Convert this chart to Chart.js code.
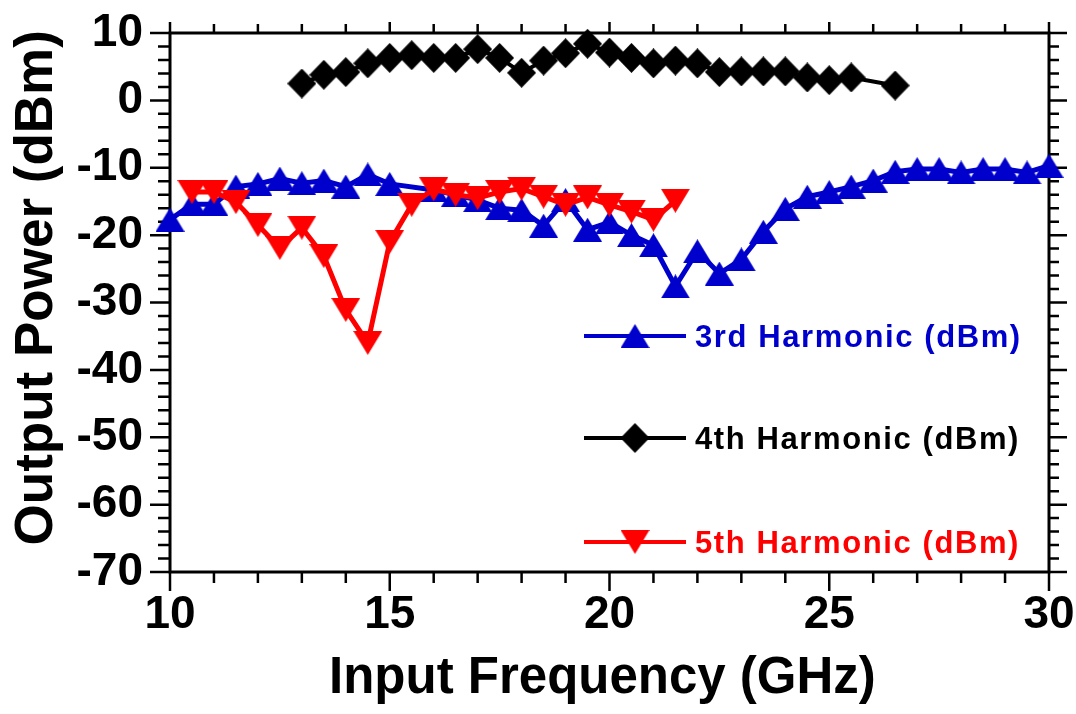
<!DOCTYPE html>
<html>
<head>
<meta charset="utf-8">
<script src="https://cdn.jsdelivr.net/npm/chart.js@4.4.1/dist/chart.umd.min.js"></script>
<style>
  html, body { margin: 0; padding: 0; background: #fff; }
  #wrap { width: 1076px; height: 714px; }
</style>
</head>
<body>
<div id="wrap"><canvas id="harmonicsChart" width="1076" height="714"></canvas></div>
<script>
// input frequency (GHz) and output power (dBm)
const freq3 = [10, 10.5, 11, 11.5, 12, 12.5, 13, 13.5, 14, 14.5, 15, 16, 16.5, 17, 17.5, 18, 18.5, 19, 19.5, 20,
               20.5, 21, 21.5, 22, 22.5, 23, 23.5, 24, 24.5, 25, 25.5, 26, 26.5, 27, 27.5, 28, 28.5, 29, 29.5, 30];
const harm3 = [-17.7, -15.4, -15.4, -12.8, -12.4, -11.6, -12.3, -11.9, -12.8, -11.0, -12.4, -13.3, -14.0, -14.8, -16.0, -16.3, -18.6, -14.8, -19.2, -18.1,
               -20.0, -21.5, -27.6, -22.4, -25.7, -23.6, -19.5, -16.1, -14.3, -13.6, -12.8, -11.9, -10.6, -10.2, -10.2, -10.7, -10.2, -10.2, -10.7, -9.7];

const freq4 = [13, 13.5, 14, 14.5, 15, 15.5, 16, 16.5, 17, 17.5, 18, 18.5, 19, 19.5, 20, 20.5, 21, 21.5, 22, 22.5,
               23, 23.5, 24, 24.5, 25, 25.5, 26.5];
const harm4 = [2.5, 3.8, 4.2, 5.5, 6.3, 6.7, 6.3, 6.3, 7.6, 6.3, 4.1, 5.9, 7.0, 8.4, 7.1, 6.3, 5.5, 5.9, 5.5, 4.2,
               4.3, 4.3, 4.3, 3.4, 3.0, 3.4, 2.2];

const freq5 = [10.5, 11, 11.5, 12, 12.5, 13, 13.5, 14, 14.5, 15, 15.5, 16, 16.5, 17, 17.5, 18, 18.5, 19, 19.5, 20,
               20.5, 21, 21.5];
const harm5 = [-13.6, -13.6, -15.1, -18.5, -21.9, -18.9, -23.1, -31.1, -36.0, -21.0, -15.5, -13.2, -14.0, -14.5, -13.6, -13.1, -14.3, -15.5, -14.4, -15.5,
               -16.5, -17.7, -14.9];

const xTicks = [10, 15, 20, 25, 30];
const yTicks = [10, 0, -10, -20, -30, -40, -50, -60, -70];

const BLUE = '#0000cc';
const RED = '#ff0000';
const BLACK = '#000000';
const FONT = '"Liberation Sans", Arial, sans-serif';

function toPoints(xs, ys) {
    return xs.map((x, i) => ({ x: x, y: ys[i] }));
}

// Origin style symbols: centred on their bounding box, not on the centroid
function makeMarker(kind, color) {
    const c = document.createElement('canvas');
    const w = 29;
    const h = kind === 'diamond' ? 30 : 24;
    c.width = w;
    c.height = h;
    const g = c.getContext('2d');
    g.fillStyle = color;
    g.beginPath();
    if (kind === 'up') {
        g.moveTo(w / 2, 0);
        g.lineTo(w, h);
        g.lineTo(0, h);
    } else if (kind === 'down') {
        g.moveTo(0, 0);
        g.lineTo(w, 0);
        g.lineTo(w / 2, h);
    } else {
        g.moveTo(w / 2, 0);
        g.lineTo(w, h / 2);
        g.lineTo(w / 2, h);
        g.lineTo(0, h / 2);
    }
    g.closePath();
    g.fill();
    return c;
}

const triUp = makeMarker('up', BLUE);
const diamond = makeMarker('diamond', BLACK);
const triDown = makeMarker('down', RED);

// box with outward ticks on all four sides, drawn under the data
const framePlugin = {
    id: 'frame',
    beforeDatasetsDraw(chart) {
        const { ctx, chartArea: a, scales: { x, y } } = chart;
        ctx.save();
        ctx.strokeStyle = BLACK;
        ctx.lineWidth = 2.5;
        ctx.beginPath();
        for (let v = x.min; v <= x.max; v += 1) {
            const px = x.getPixelForValue(v);
            const major = v % 5 === 0;
            ctx.moveTo(px, a.bottom);
            ctx.lineTo(px, a.bottom + (major ? 19 : 11));
            ctx.moveTo(px, a.top);
            ctx.lineTo(px, a.top - (major ? 11 : 9));
        }
        for (let v = y.min; v <= y.max; v += 2) {
            const py = y.getPixelForValue(v);
            const major = v % 10 === 0;
            ctx.moveTo(a.left, py);
            ctx.lineTo(a.left - (major ? 20 : 12), py);
            ctx.moveTo(a.right, py);
            ctx.lineTo(a.right + (major ? 18 : 10), py);
        }
        ctx.stroke();
        ctx.lineWidth = 3;
        ctx.strokeRect(a.left, a.top, a.right - a.left, a.bottom - a.top);
        ctx.restore();
    }
};

// legend sits inside the plot, lower right
const legendPlugin = {
    id: 'innerLegend',
    afterDraw(chart) {
        const { ctx } = chart;
        const rows = [
            { ds: 0, y: 336 },
            { ds: 1, y: 438 },
            { ds: 2, y: 542 }
        ];
        ctx.save();
        rows.forEach(r => {
            const ds = chart.data.datasets[r.ds];
            const sym = ds.pointStyle;
            ctx.strokeStyle = ds.borderColor;
            ctx.fillStyle = ds.borderColor;
            ctx.lineWidth = 4;
            ctx.beginPath();
            ctx.moveTo(584, r.y);
            ctx.lineTo(686, r.y);
            ctx.stroke();
            ctx.drawImage(sym, 635 - sym.width / 2, r.y - sym.height / 2);
            ctx.font = 'bold 31px ' + FONT;
            if ('letterSpacing' in ctx) ctx.letterSpacing = '1.6px';
            ctx.textAlign = 'left';
            ctx.textBaseline = 'middle';
            ctx.fillText(ds.label, 695, r.y + 2);
        });
        ctx.restore();
    }
};

// keep the plot box where it is in the picture: no extra room for end labels
function noEdgePadding(scale) {
    scale.paddingTop = 0;
    scale.paddingBottom = 0;
    scale.paddingLeft = 0;
    scale.paddingRight = 0;
}

new Chart(document.getElementById('harmonicsChart'), {
    type: 'line',
    data: {
        datasets: [
            {
                label: '3rd Harmonic (dBm)',
                data: toPoints(freq3, harm3),
                borderColor: BLUE,
                backgroundColor: BLUE,
                borderWidth: 5,
                pointStyle: triUp,
                pointRadius: 15,
                order: 2,
                clip: false
            },
            {
                label: '4th Harmonic (dBm)',
                data: toPoints(freq4, harm4),
                borderColor: BLACK,
                backgroundColor: BLACK,
                borderWidth: 4,
                pointStyle: diamond,
                pointRadius: 15,
                order: 1,
                clip: false
            },
            {
                label: '5th Harmonic (dBm)',
                data: toPoints(freq5, harm5),
                borderColor: RED,
                backgroundColor: RED,
                borderWidth: 5,
                pointStyle: triDown,
                pointRadius: 15,
                order: 0,
                clip: false
            }
        ]
    },
    options: {
        responsive: false,
        animation: false,
        devicePixelRatio: 1,
        layout: { padding: { top: 33, right: 27, left: 0, bottom: 0 } },
        plugins: {
            legend: { display: false },
            tooltip: { enabled: false }
        },
        scales: {
            x: {
                type: 'linear',
                min: 10,
                max: 30,
                afterBuildTicks: (scale) => { scale.ticks = xTicks.map(v => ({ value: v })); },
                afterFit: (scale) => { scale.height = 142; noEdgePadding(scale); },
                grid: { display: false, drawTicks: false },
                border: { display: false },
                ticks: {
                    color: BLACK,
                    padding: 16,
                    maxRotation: 0,
                    font: { family: FONT, size: 46, weight: 'bold' }
                },
                title: {
                    display: true,
                    text: 'Input Frequency (GHz) ',
                    color: BLACK,
                    padding: { top: 0, bottom: 4 },
                    font: { family: FONT, size: 51, weight: 'bold' }
                }
            },
            y: {
                type: 'linear',
                min: -70,
                max: 10,
                afterBuildTicks: (scale) => { scale.ticks = yTicks.map(v => ({ value: v })); },
                afterFit: (scale) => { scale.width = 170; noEdgePadding(scale); },
                grid: { display: false, drawTicks: false },
                border: { display: false },
                ticks: {
                    color: BLACK,
                    padding: 27,
                    font: { family: FONT, size: 46, weight: 'bold' }
                },
                title: {
                    display: true,
                    text: '  Output Power (dBm)',
                    color: BLACK,
                    padding: { top: 6, bottom: 0 },
                    font: { family: FONT, size: 53, weight: 'bold' }
                }
            }
        }
    },
    plugins: [framePlugin, legendPlugin]
});
</script>
</body>
</html>
